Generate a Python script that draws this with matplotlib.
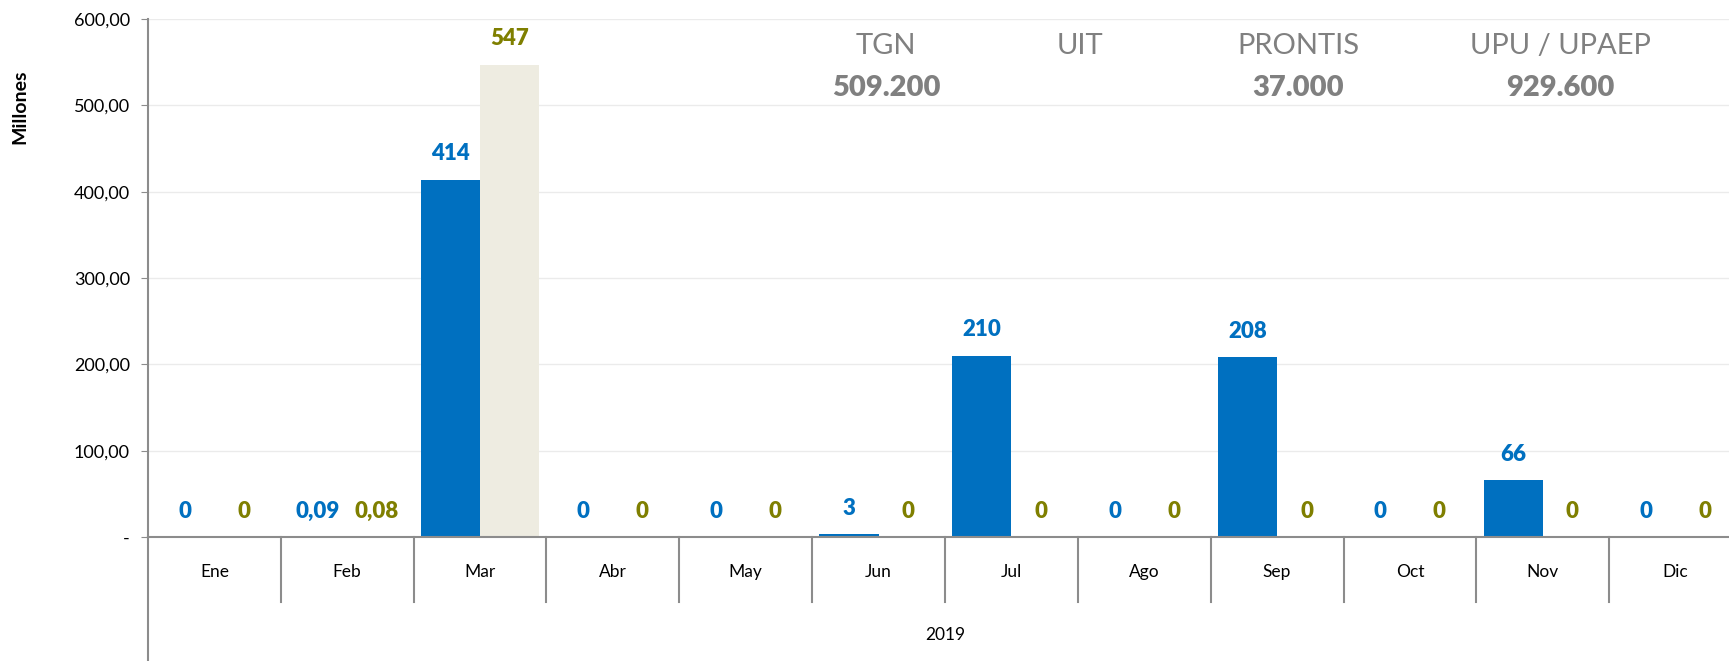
import matplotlib
matplotlib.use("Agg")
import matplotlib.pyplot as plt
import numpy as np

# data
months = ["Ene", "Feb", "Mar", "Abr", "May", "Jun", "Jul", "Ago", "Sep", "Oct", "Nov", "Dic"]
serie_a = [0, 0.09, 414, 0, 0, 3, 210, 0, 208, 0, 66, 0]
serie_b = [0, 0.08, 547, 0, 0, 0, 0, 0, 0, 0, 0, 0]
labels_a = ["0", "0,09", "414", "0", "0", "3", "210", "0", "208", "0", "66", "0"]
labels_b = ["0", "0,08", "547", "0", "0", "0", "0", "0", "0", "0", "0", "0"]
year_label = "2019"
y_ticks = [0, 100, 200, 300, 400, 500, 600]
y_tick_labels = ["-", "100,00", "200,00", "300,00", "400,00", "500,00", "600,00"]
summary_names = ["TGN", "UIT", "PRONTIS", "UPU / UPAEP"]
summary_values = ["509.200", "", "37.000", "929.600"]

BLUE = "#0070C0"
BEIGE = "#EEECE1"
OLIVE = "#7F7F00"
GREY = "#8C8C8C"

plt.rcParams["font.family"] = ["Lato", "DejaVu Sans"]

W, H = 1729, 661
fig = plt.figure(figsize=(W / 100, H / 100), dpi=100)
left, right, bottom, top = 148, 1742, 537, 19
ax = fig.add_axes([left / W, 1 - bottom / H, (right - left) / W, (bottom - top) / H])

x = np.arange(len(months))
bw = 0.445
ax.bar(x - bw / 2, serie_a, width=bw, color=BLUE, zorder=2)
ax.bar(x + bw / 2, serie_b, width=bw, color=BEIGE, zorder=2)

for xi, v, s in zip(x, serie_a, labels_a):
    ax.annotate(s, (xi - bw / 2, v), xytext=(0, 11), textcoords="offset points",
                ha="center", va="bottom", color=BLUE, fontsize=16, fontweight="heavy")
for xi, v, s in zip(x, serie_b, labels_b):
    ax.annotate(s, (xi + bw / 2, v), xytext=(0, 11), textcoords="offset points",
                ha="center", va="bottom", color=OLIVE, fontsize=16, fontweight="heavy")

ax.set_xlim(-0.5, len(months) - 0.5)
ax.set_ylim(0, 600)
ax.set_yticks(y_ticks)
ax.set_yticklabels(y_tick_labels, fontsize=13)
ax.yaxis.grid(True, color="#EBEBEB", linewidth=1)
ax.set_axisbelow(True)
ax.tick_params(axis="y", length=5, color=GREY, pad=8)

for sp in ["top", "right"]:
    ax.spines[sp].set_visible(False)
for sp in ["left", "bottom"]:
    ax.spines[sp].set_color(GREY)
    ax.spines[sp].set_linewidth(1.5)

# category labels and separators below the axis
ax.set_xticks([])
trans = ax.get_xaxis_transform()
for xi, m in zip(x, months):
    ax.text(xi, -0.067, m, transform=trans, ha="center", va="center", fontsize=12.5)
for b in np.arange(0.5, len(months) - 0.5, 1.0):
    ax.plot([b, b], [0, -0.125], transform=trans, color=GREY, lw=1.5, clip_on=False)
ax.plot([-0.5, -0.5], [0, -0.24], transform=trans, color=GREY, lw=1.5, clip_on=False)
ax.text((len(months) - 1) / 2, -0.19, year_label, transform=trans,
        ha="center", va="center", fontsize=12.5)

ax.set_ylabel("Millones", fontsize=14, fontweight="bold")
ax.yaxis.set_label_coords(-0.075, 0.83)

# summary texts at the top
name_x = [886, 1080, 1298, 1560]
for nx, n, v in zip(name_x, summary_names, summary_values):
    fig.text(nx / W, 1 - 46 / H, n, ha="center", va="center", fontsize=21, color="#808080")
    fig.text(nx / W, 1 - 88 / H, v, ha="center", va="center", fontsize=21,
             color="#808080", fontweight="heavy")

fig.savefig("out.png", dpi=100)
